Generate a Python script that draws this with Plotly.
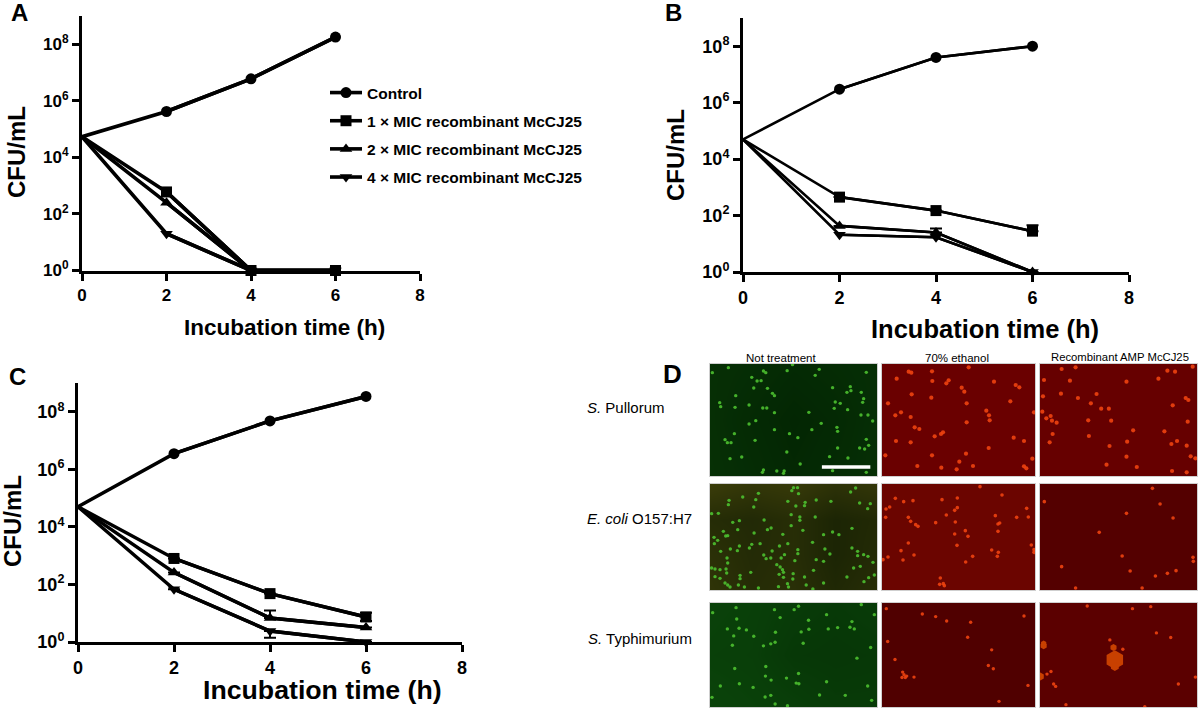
import plotly.graph_objects as go

W, H = 1200, 710
ARIAL = "Liberation Sans"

hours = [0, 2, 4, 6]
series_names = [
    "Control",
    "1 × MIC recombinant McCJ25",
    "2 × MIC recombinant McCJ25",
    "4 × MIC recombinant McCJ25",
]
symbols = ["circle", "square", "triangle-up", "triangle-down"]
y_ticks = [1, 1e2, 1e4, 1e6, 1e8]
y_tick_labels = ["10<sup>0</sup>", "10<sup>2</sup>", "10<sup>4</sup>", "10<sup>6</sup>", "10<sup>8</sup>"]
x_ticks = [0, 2, 4, 6, 8]

# CFU/mL
a_control = [5.4e4, 4.2e5, 6e6, 1.8e8]
a_1x = [5.4e4, 600, 1, 1]
a_2x = [5.4e4, 250, 1, 1]
a_4x = [5.4e4, 20, 1, 1]

b_control = [5e4, 3e6, 4e7, 1e8]
b_1x = [5e4, 450, 150, 28]
b_2x = [5e4, 43, 25, 1]
b_4x = [5e4, 21, 17, 1]
b_1x_up = [0, 0, 0, 17]
b_2x_up = [0, 0, 10, 0]

c_control = [5e4, 3.5e6, 4.8e7, 3.4e8]
c_1x = [5e4, 800, 48, 7.4]
c_2x = [5e4, 260, 6.8, 3.2]
c_4x = [5e4, 68, 2.4, 1]
c_1x_up = [0, 0, 0, 3]
c_1x_down = [0, 0, 0, 2]
c_2x_up = [0, 0, 5.7, 0]
c_4x_down = [0, 0, 1, 0]

# micrograph spots, in pixels of a 3x crop of each row
r1c1_x = [22, 70, 175, 182, 246, 262, 342, 330, 483, 140, 156, 168, 146, 187, 202, 208, 92, 382, 435, 437, 425, 468, 475, 472, 44, 47, 90, 132, 173, 185, 208, 390, 405, 387, 427, 311, 467, 488, 502, 348, 132, 152, 88, 208, 253, 320, 395, 397, 60, 67, 78, 150, 278, 483, 490, 478, 463, 397, 245, 75, 110, 373, 428, 285, 175, 172, 215, 237, 235, 382, 483]
r1c1_y = [38, 23, 33, 38, 32, 14, 28, 46, 37, 52, 63, 62, 84, 85, 100, 107, 107, 83, 80, 92, 97, 97, 116, 127, 128, 140, 142, 135, 144, 144, 158, 126, 130, 145, 149, 157, 165, 165, 183, 190, 192, 182, 221, 209, 221, 209, 202, 214, 239, 248, 248, 241, 233, 238, 256, 267, 264, 264, 276, 296, 291, 290, 294, 312, 330, 337, 333, 333, 340, 332, 337]
r1c2_x = [620, 612, 682, 792, 576, 683, 732, 725, 868, 933, 944, 771, 779, 621, 680, 550, 786, 917, 845, 853, 988, 572, 589, 618, 855, 786, 630, 644, 715, 709, 690, 574, 618, 927, 958, 852, 682, 784, 983, 764, 638, 710, 756, 805, 958, 965, 542]
r1c2_y = [38, 35, 34, 22, 56, 63, 61, 70, 65, 75, 82, 83, 95, 103, 113, 130, 130, 124, 152, 166, 157, 166, 157, 171, 181, 187, 202, 207, 217, 222, 229, 243, 247, 233, 243, 264, 286, 281, 296, 305, 318, 323, 328, 318, 319, 325, 286]
r1c3_x = [1070, 1112, 1464, 1388, 1411, 1017, 1095, 1265, 1361, 1014, 1068, 1175, 1119, 1158, 1189, 1212, 1443, 1451, 1404, 1012, 1037, 1024, 1041, 1055, 1150, 1219, 1449, 1285, 1379, 1043, 1152, 1034, 1267, 1417, 1400, 1446, 1214, 1265, 1458, 1472, 1205, 1296, 1402, 1446]
r1c3_y = [27, 22, 20, 32, 35, 60, 62, 65, 56, 109, 101, 102, 114, 130, 146, 146, 114, 120, 136, 155, 168, 175, 182, 188, 181, 182, 185, 211, 214, 222, 228, 247, 245, 243, 252, 257, 258, 290, 289, 295, 314, 321, 333, 337]

r2c1_x = [265, 277, 260, 280, 436, 451, 113, 160, 152, 146, 72, 70, 248, 300, 298, 272, 333, 377, 463, 495, 487, 20, 40, 258, 284, 284, 330, 177, 103, 83, 258, 293, 198, 187, 98, 147, 233, 355, 382, 401, 440, 55, 62, 68, 27, 38, 28, 140, 165, 103, 97, 47, 76, 133, 223, 248, 322, 278, 278, 201, 238, 228, 176, 183, 197, 440, 457, 457, 359, 374, 475, 488, 66, 68, 269, 333, 355, 503, 465, 445, 20, 30, 45, 63, 65, 215, 225, 232, 235, 222, 235, 137, 264, 325, 263, 105, 105, 30, 45, 425, 490, 507, 476, 298, 60, 68, 75, 100, 118, 160, 220, 247, 250, 303, 323, 355]
r2c1_y = [24, 24, 33, 42, 37, 25, 52, 41, 60, 82, 62, 75, 65, 68, 78, 79, 61, 65, 70, 72, 87, 102, 101, 105, 112, 122, 112, 121, 123, 128, 138, 152, 145, 150, 150, 160, 164, 165, 157, 165, 146, 155, 169, 168, 173, 182, 192, 194, 192, 199, 213, 215, 208, 205, 199, 192, 188, 210, 222, 214, 225, 235, 226, 237, 235, 205, 215, 228, 208, 223, 225, 230, 235, 250, 243, 240, 245, 248, 260, 265, 265, 268, 270, 268, 280, 255, 262, 270, 278, 284, 293, 278, 282, 272, 298, 287, 297, 291, 296, 292, 294, 286, 306, 292, 310, 316, 322, 316, 322, 325, 321, 312, 322, 316, 328, 310]
r2c2_x = [826, 892, 572, 597, 625, 712, 758, 758, 750, 555, 544, 966, 543, 611, 618, 633, 640, 725, 752, 693, 872, 936, 971, 885, 880, 880, 782, 750, 790, 611, 757, 589, 628, 550, 535, 595, 861, 881, 878, 804, 783, 980, 988, 988, 707, 716, 705, 719]
r2c2_y = [21, 46, 56, 66, 63, 60, 55, 84, 92, 82, 88, 86, 113, 113, 125, 135, 140, 106, 127, 129, 108, 113, 112, 130, 133, 155, 153, 163, 170, 190, 197, 213, 226, 232, 240, 241, 211, 218, 230, 230, 247, 196, 210, 218, 295, 312, 314, 318]
r2c3_x = [1343, 1018, 1366, 1265, 1405, 1183, 1252, 1465, 1466, 1070, 1276, 1414, 1388, 1352, 1112, 1312]
r2c3_y = [26, 66, 73, 101, 115, 158, 229, 233, 245, 261, 274, 273, 281, 289, 325, 325]

r3c1_x = [93, 208, 267, 280, 468, 23, 364, 507, 225, 95, 310, 440, 67, 102, 124, 211, 288, 311, 369, 397, 434, 447, 86, 146, 210, 197, 294, 82, 175, 496, 455, 89, 182, 181, 198, 244, 280, 364, 103, 46, 144, 273, 281, 487, 180, 197, 343, 420, 21, 499, 210, 247]
r3c1_y = [28, 34, 34, 24, 19, 43, 49, 49, 58, 62, 66, 70, 92, 90, 95, 102, 101, 93, 92, 88, 87, 92, 113, 114, 132, 137, 135, 141, 143, 148, 180, 211, 205, 234, 246, 240, 226, 251, 257, 264, 268, 255, 257, 264, 297, 292, 291, 292, 298, 307, 318, 323]
r3c2_x = [545, 653, 693, 726, 798, 958, 549, 789, 861, 571, 851, 866, 628, 970, 883, 594, 598, 606, 592, 602]
r3c2_y = [31, 47, 55, 68, 72, 53, 130, 117, 155, 184, 202, 212, 237, 262, 310, 222, 230, 234, 238, 238]
r3c3_x = [1147, 1283, 1338, 1355, 1398, 1215, 1254, 1038, 1026, 1472, 1421, 1046, 1052, 1083, 1320]
r3c3_y = [23, 31, 25, 104, 118, 125, 153, 220, 228, 237, 258, 258, 265, 320, 326]
blob_x = [1230, 1230, 1226, 1016, 1016, 1006]
blob_y = [185, 205, 148, 143, 136, 235]
blob_size = [19, 9, 7, 7, 6, 8]

scale_bar_x = [350, 495]
scale_bar_y = [321, 321]

# coarse background brightness of the green photos, rows top to bottom
r1c1_bg = [[0.45, 0.35, 0.2, 0.3, 0.4], [0.45, 0.2, 0.0, 0.15, 0.4], [0.5, 0.3, 0.1, 0.25, 0.45]]
r2c1_bg = [[0.9, 0.7, 0.8, 0.55, 0.7], [0.35, 0.25, 0.4, 0.1, 0.25], [0.5, 0.3, 0.4, 0.1, 0.3], [0.6, 0.35, 0.45, 0.2, 0.4]]
r3c1_bg = [[0.7, 0.6, 0.45, 0.35, 0.45], [0.6, 0.55, 0.3, 0.25, 0.3], [0.75, 0.65, 0.55, 0.4, 0.4]]


def xdom(p0, p1):
    return [p0 / W, p1 / W]


def ydom(p0, p1):
    return [1 - p1 / H, 1 - p0 / H]


fig = go.Figure()
charts = [
    dict(key="", left=82, right=420, top=16, bottom=270.5, top_val=9.0, lw=3.6, size=17, legend=True,
         ys=[a_control, a_1x, a_2x, a_4x], up=[None] * 4, down=[None] * 4),
    dict(key="2", left=743, right=1129, top=18, bottom=272, top_val=9.0, lw=2.6, size=18, legend=False,
         ys=[b_control, b_1x, b_2x, b_4x], up=[None, b_1x_up, b_2x_up, None], down=[None] * 4),
    dict(key="3", left=78, right=462, top=383, bottom=642, top_val=9.0, lw=3.4, size=18, legend=False,
         ys=[c_control, c_1x, c_2x, c_4x], up=[None, c_1x_up, c_2x_up, None],
         down=[None, c_1x_down, None, c_4x_down]),
]

for chart in charts:
    k = chart["key"]
    for name, symbol, ys, up, down in zip(series_names, symbols, chart["ys"], chart["up"], chart["down"]):
        error_y = dict(visible=False)
        if up is not None or down is not None:
            error_y = dict(
                type="data",
                symmetric=False,
                array=(up or [0, 0, 0, 0])[1:],
                arrayminus=(down or [0, 0, 0, 0])[1:],
                color="black",
                thickness=2,
                width=6,
            )
        line = dict(color="black", width=chart["lw"])
        # the start point has no visible marker in the picture, so it only gets the line
        fig.add_trace(go.Scatter(
            x=hours, y=ys, mode="lines", line=line, cliponaxis=False,
            xaxis=f"x{k}", yaxis=f"y{k}", legendgroup=name, showlegend=False,
        ))
        fig.add_trace(go.Scatter(
            x=hours[1:], y=ys[1:], name=name, mode="lines+markers", line=line,
            marker=dict(symbol=symbol, size=11, color="black"),
            error_y=error_y, cliponaxis=False,
            xaxis=f"x{k}", yaxis=f"y{k}",
            legendgroup=name, showlegend=chart["legend"],
        ))
    tickfont = dict(family=ARIAL, size=chart["size"], color="black", weight="bold")
    common = dict(showgrid=False, zeroline=False, showline=True, linecolor="black", linewidth=3,
                  ticks="outside", ticklen=7, tickwidth=3, tickcolor="black", tickfont=tickfont)
    fig.layout[f"xaxis{k}"] = dict(
        domain=xdom(chart["left"], chart["right"]), range=[0, 8],
        tickvals=x_ticks, anchor=f"y{k}", **common)
    fig.layout[f"yaxis{k}"] = dict(
        domain=ydom(chart["top"], chart["bottom"]), type="log", range=[0, chart["top_val"]],
        tickvals=y_ticks, ticktext=y_tick_labels, anchor=f"x{k}", **common)

# micrographs, each one on its own little axes using the crop pixels
GREEN = "#4cc030"
RED = "#ee4210"
col_px = [(710, 877, 15, 515), (882, 1035, 532, 991), (1040, 1197, 1005, 1477)]
row_px = [(364, 476, 12, 348), (484, 590, 13, 331), (603, 707, 14, 327)]
photos = [
    [(r1c1_x, r1c1_y, r1c1_bg), (r1c2_x, r1c2_y, "#6a0000"), (r1c3_x, r1c3_y, "#660000")],
    [(r2c1_x, r2c1_y, r2c1_bg), (r2c2_x, r2c2_y, "#6b0500"), (r2c3_x, r2c3_y, "#540000")],
    [(r3c1_x, r3c1_y, r3c1_bg), (r3c2_x, r3c2_y, "#500000"), (r3c3_x, r3c3_y, "#5b0000")],
]
bg_scales = {
    0: [[0, "#032603"], [1, "#0a3a08"]],
    1: [[0, "#182204"], [1, "#3e3f0a"]],
    2: [[0, "#053005"], [1, "#0c4a0c"]],
}
spot_sizes = [4.2, 3.6, 3.4]
n = 4
for r, (py0, py1, zy0, zy1) in enumerate(row_px):
    for c, (px0, px1, zx0, zx1) in enumerate(col_px):
        xs, ys, bg = photos[r][c]
        xa, ya = f"x{n}", f"y{n}"
        if c == 0:
            nx, ny = len(bg[0]), len(bg)
            fig.add_trace(go.Heatmap(
                z=bg, x0=zx0, dx=(zx1 - zx0) / (nx - 1), y0=zy0, dy=(zy1 - zy0) / (ny - 1),
                colorscale=bg_scales[r], zmin=0, zmax=1, zsmooth="best",
                showscale=False, hoverinfo="skip", xaxis=xa, yaxis=ya,
            ))
        else:
            fig.add_shape(type="rect", xref=f"{xa} domain", yref=f"{ya} domain",
                          x0=0, x1=1, y0=0, y1=1, fillcolor=bg, line_width=0, layer="below")
        fig.add_trace(go.Scatter(
            x=xs, y=ys, mode="markers", showlegend=False, xaxis=xa, yaxis=ya,
            marker=dict(size=3.4 if c == 0 else spot_sizes[r], color=GREEN if c == 0 else RED,
                        opacity=0.9, line_width=0),
        ))
        if r == 0 and c == 0:
            fig.add_trace(go.Scatter(
                x=scale_bar_x, y=scale_bar_y, mode="lines", showlegend=False, xaxis=xa, yaxis=ya,
                line=dict(color="white", width=3.5),
            ))
        if r == 2 and c == 2:
            fig.add_trace(go.Scatter(
                x=blob_x, y=blob_y, mode="markers", showlegend=False, xaxis=xa, yaxis=ya,
                marker=dict(size=blob_size, color="#c84000", opacity=1, symbol="hexagon", line_width=0),
            ))
        frame = dict(showgrid=False, zeroline=False, showticklabels=False, ticks="",
                     showline=True, linecolor="#cfcfcf", linewidth=1, mirror=True)
        fig.layout[f"xaxis{n}"] = dict(domain=xdom(px0, px1), range=[zx0, zx1], anchor=ya, **frame)
        fig.layout[f"yaxis{n}"] = dict(domain=ydom(py0, py1), range=[zy1, zy0], anchor=xa, **frame)
        n += 1

notes = [
    # text, x, y, size, angle
    ("A", 19, 13, 24, 0),
    ("B", 673, 13, 24, 0),
    ("C", 17, 377, 24, 0),
    ("D", 672, 374, 26, 0),
    ("CFU/mL", 17, 152, 24, -90),
    ("CFU/mL", 676, 155, 24, -90),
    ("CFU/mL", 12, 521, 24, -90),
    ("Incubation time (h)", 284, 327, 22.5, 0),
    ("Incubation time (h)", 985, 329, 25.5, 0),
    ("Incubation time (h)", 322, 690, 26.7, 0),
]
for text, x, y, size, angle in notes:
    fig.add_annotation(text=text, x=x / W, y=1 - y / H, xref="paper", yref="paper",
                       showarrow=False, textangle=angle, xanchor="center", yanchor="middle",
                       font=dict(family=ARIAL, size=size, color="black", weight="bold"))

plain_notes = [
    ("Not treatment", 781, 358, 11.5, "center"),
    ("70% ethanol", 957, 358, 11.5, "center"),
    ("Recombinant AMP McCJ25", 1120, 357, 11.3, "center"),
    ("<i>S.</i> Pullorum", 585, 407, 15, "left"),
    ("<i>E. coli</i> O157:H7", 585, 518, 15, "left"),
    ("<i>S.</i> Typhimurium", 586, 638, 15, "left"),
]
for text, x, y, size, anchor in plain_notes:
    fig.add_annotation(text=text, x=x / W, y=1 - y / H, xref="paper", yref="paper",
                       showarrow=False, xanchor=anchor, yanchor="middle",
                       font=dict(family=ARIAL, size=size, color="black"))

fig.update_layout(
    width=W, height=H, margin=dict(l=0, r=0, t=0, b=0, autoexpand=False),
    paper_bgcolor="white", plot_bgcolor="rgba(0,0,0,0)",
    legend=dict(x=325 / W, y=1 - 76 / H, xanchor="left", yanchor="top",
                bgcolor="rgba(0,0,0,0)", tracegroupgap=5, itemwidth=32, itemclick=False,
                font=dict(family=ARIAL, size=15.5, color="black", weight="bold")),
)

fig.write_html("out.html", config={"displayModeBar": False},
               post_script="document.body.style.margin='0'")
